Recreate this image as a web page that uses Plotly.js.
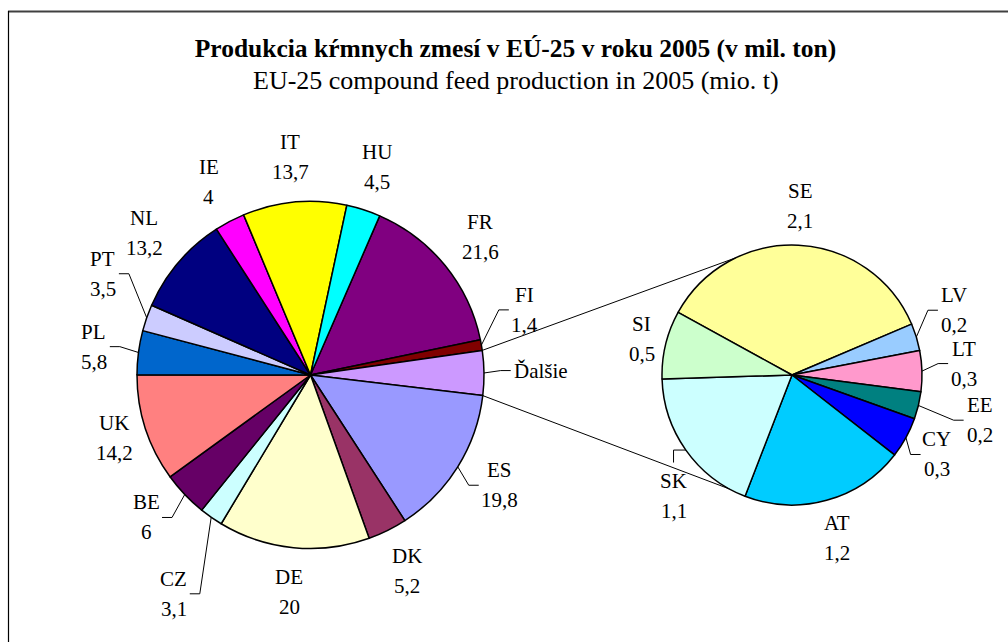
<!DOCTYPE html>
<html><head><meta charset="utf-8">
<script src="https://cdn.plot.ly/plotly-3.0.1.min.js"></script>
<style>html,body{margin:0;padding:0;background:#fff}#chart{width:1008px;height:642px}</style>
</head><body><div id="chart"></div>
<script>
// ---------------- data ----------------
const titleMain = 'Produkcia kŕmnych zmesí v EÚ-25 v roku 2005 (v mil. ton)';
const titleSub = 'EU-25 compound feed production in 2005 (mio. t)';

const otherCountries = ['SE', 'LV', 'LT', 'EE', 'CY', 'AT', 'SK', 'SI'];
const otherValues    = [2.1, 0.2, 0.3, 0.2, 0.3, 1.2, 1.1, 0.5];
const otherColors    = ['#FFFF99', '#99CCFF', '#FF99CC', '#008080', '#0000FF', '#00CCFF', '#CCFFFF', '#CCFFCC'];

const otherName = 'Ďalšie';
const otherTotal = +otherValues.reduce((a, b) => a + b, 0).toFixed(1);

const mainCountries = ['FR', 'FI', otherName, 'ES', 'DK', 'DE', 'CZ', 'BE', 'UK', 'PL', 'PT', 'NL', 'IE', 'IT', 'HU'];
const mainValues    = [21.6, 1.4, otherTotal, 19.8, 5.2, 20, 3.1, 6, 14.2, 5.8, 3.5, 13.2, 4, 13.7, 4.5];
const mainColors    = ['#800080', '#800000', '#CC99FF', '#9999FF', '#993366', '#FFFFCC', '#CCFFFF', '#660066',
                       '#FF8080', '#0066CC', '#CCCCFF', '#000080', '#FF00FF', '#FFFF00', '#00FFFF'];

// ---------------- layout geometry (pixels) ----------------
const W = 1008, H = 642;
const FONT = 'Liberation Serif';
const GEO = {
  main: {cx: 310.5, cy: 375, r: 173.5, rot: 23.5, gap: 45},
  sec:  {cx: 792,   cy: 375, r: 130,   rot: -61.2, gap: 39}
};
// label placements moved by hand in the original (angle in deg clockwise from top, distance in px)
const labelMoves = {
  'FI': {ang: 73.1, dist: 224}, 'PT': {ang: 296, dist: 231}, 'UK': {dist: 206},
  'BE': {ang: 229.1, dist: 217.6}, 'CZ': {ang: 212, dist: 258}, 'ES': {ang: 120.3},
  'Ďalšie': {ang: 88.9, dist: 230.5},
  'LV': {ang: 68.2, dist: 174.4}, 'LT': {ang: 86.2, dist: 172.5}, 'EE': {dist: 193},
  'CY': {dist: 165}, 'SK': {ang: 224.5}, 'SI': {dist: 154.4}
};
const leaderLabels = ['FI', 'Ďalšie', 'ES', 'CZ', 'BE', 'PL', 'PT', 'LV', 'LT', 'EE', 'CY', 'SK'];
const connectorAngles = [334.3, 208.7]; // where the joining lines meet the secondary pie

// ---------------- helpers ----------------
const px = x => x / W;
const py = y => 1 - y / H;
function polar(g, ang, d) {
  const a = ang * Math.PI / 180;
  return [g.cx + d * Math.sin(a), g.cy - d * Math.cos(a)];
}
function domainOf(g) {
  return {x: [px(g.cx - g.r), px(g.cx + g.r)], y: [py(g.cy + g.r), py(g.cy - g.r)]};
}
function fmt(v) { return String(v).replace('.', ','); }
function textW(s) {
  let w = 0;
  for (const ch of s) {
    if (/[0-9]/.test(ch)) w += 10.5;
    else if (ch === ',') w += 5.3;
    else if (/[A-ZĎ]/.test(ch)) w += 14;
    else w += 8.5;
  }
  return w;
}
function sliceAngles(g, values) {
  const tot = values.reduce((a, b) => a + b, 0);
  let cum = 0;
  return values.map(v => {
    const a0 = g.rot + cum / tot * 360;
    cum += v;
    const a1 = g.rot + cum / tot * 360;
    return {a0, a1, mid: (a0 + a1) / 2};
  });
}

const annotations = [];
const shapes = [];

function pathOf(points) {
  return points.map((p, i) => (i ? 'L' : 'M') + px(p[0]).toFixed(5) + ',' + py(p[1]).toFixed(5)).join(' ');
}

function addLabels(g, names, values, singleLine) {
  const angs = sliceAngles(g, values);
  names.forEach((name, i) => {
    const mv = labelMoves[name] || {};
    const ang = mv.ang !== undefined ? mv.ang : angs[i].mid;
    const dist = mv.dist !== undefined ? mv.dist : g.r + g.gap;
    const [lx, ly] = polar(g, ang, dist);
    const one = singleLine.includes(name);
    const lines = one ? [name] : [name, fmt(values[i])];
    lines.forEach((t, k) => {
      const yy = one ? ly : ly + (k === 0 ? -15 : 15);
      annotations.push({
        xref: 'paper', yref: 'paper', x: px(lx), y: py(yy),
        xanchor: 'center', yanchor: 'middle', showarrow: false,
        text: t, font: {family: FONT, size: 21, color: '#000'}
      });
    });
    if (leaderLabels.includes(name)) {
      const P = polar(g, angs[i].mid, g.r);
      const halfW = Math.max(...lines.map(textW)) / 2 + 2;
      let A, E;
      if (Math.abs(P[0] - lx) < halfW + 2) {
        const s = P[1] < ly ? -1 : 1;
        A = [lx, ly + s * 33];
        E = [lx, P[1]];
      } else {
        const s = P[0] > lx ? 1 : -1;
        A = [lx + s * halfW, ly];
        E = [A[0] + s * 10, ly];
      }
      shapes.push({type: 'path', xref: 'paper', yref: 'paper', path: pathOf([P, E, A]),
                   line: {color: '#000', width: 1}});
    }
  });
  return angs;
}

const mainAngs = addLabels(GEO.main, mainCountries, mainValues, [otherName]);
addLabels(GEO.sec, otherCountries, otherValues, []);

// connector lines between the "other" slice and the secondary pie
const oi = mainCountries.indexOf(otherName);
[mainAngs[oi].a0, mainAngs[oi].a1].forEach((a, k) => {
  const p0 = polar(GEO.main, a, GEO.main.r);
  const p1 = polar(GEO.sec, connectorAngles[k], GEO.sec.r);
  shapes.push({type: 'path', xref: 'paper', yref: 'paper', path: pathOf([p0, p1]),
               line: {color: '#000', width: 1}});
});

// chart frame (top and left edges visible)
shapes.push({type: 'line', xref: 'paper', yref: 'paper', x0: px(8), x1: 1, y0: py(11.5), y1: py(11.5),
             line: {color: '#404040', width: 2}});
shapes.push({type: 'line', xref: 'paper', yref: 'paper', x0: px(8.5), x1: px(8.5), y0: py(11), y1: 0,
             line: {color: '#000', width: 1.2}});

// subtitle
annotations.push({xref: 'paper', yref: 'paper', x: px(515.5), y: py(80.7), xanchor: 'center', yanchor: 'middle',
                  showarrow: false, text: titleSub, font: {family: FONT, size: 26, color: '#000'}});

const traces = [
  {type: 'pie', labels: mainCountries, values: mainValues, sort: false, direction: 'clockwise',
   rotation: GEO.main.rot, textinfo: 'none', hoverinfo: 'label+value', showlegend: false,
   marker: {colors: mainColors, line: {color: '#000', width: 1.5}}, domain: domainOf(GEO.main)},
  {type: 'pie', labels: otherCountries, values: otherValues, sort: false, direction: 'clockwise',
   rotation: GEO.sec.rot, textinfo: 'none', hoverinfo: 'label+value', showlegend: false,
   marker: {colors: otherColors, line: {color: '#000', width: 1.5}}, domain: domainOf(GEO.sec)}
];

const layout = {
  width: W, height: H, margin: {l: 0, r: 0, t: 0, b: 0},
  paper_bgcolor: '#fff', plot_bgcolor: '#fff', showlegend: false,
  font: {family: FONT, color: '#000'},
  title: {text: '<b>' + titleMain + '</b>', x: px(515.5), xanchor: 'center', xref: 'paper',
          y: py(48.3), yanchor: 'middle', yref: 'paper',
          font: {family: FONT, size: 25.5, color: '#000'}},
  annotations, shapes
};

Plotly.newPlot('chart', traces, layout, {displayModeBar: false, staticPlot: true});
</script>
</body></html>
